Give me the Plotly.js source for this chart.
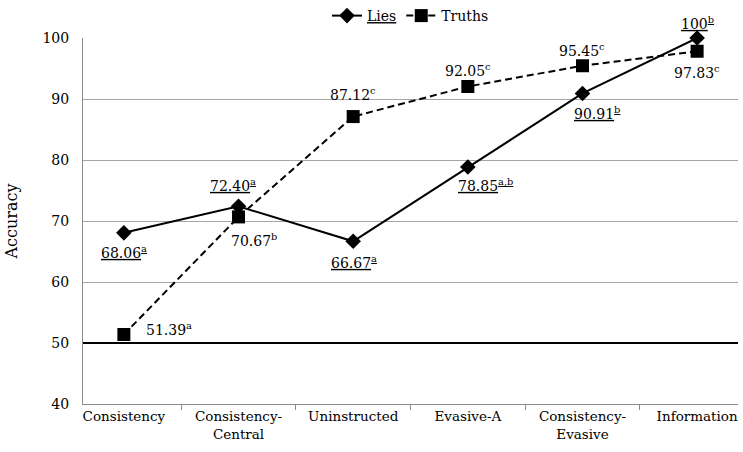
<!DOCTYPE html>
<html>
<head>
<meta charset="utf-8">
<script src="https://cdn.plot.ly/plotly-3.0.1.min.js"></script>
<style>
  html, body { margin: 0; padding: 0; background: #fff; }
  #chart { width: 743px; height: 452px; }
</style>
</head>
<body>
<div id="chart"></div>
<script>
// categories and values
const categories = ['Consistency', 'Consistency-<br>Central', 'Uninstructed',
                    'Evasive-A', 'Consistency-<br>Evasive', 'Information'];
const lies = [68.06, 72.40, 66.67, 78.85, 90.91, 100];
const truths = [51.39, 70.67, 87.12, 92.05, 95.45, 97.83];
const liesSig = ['a', 'a', 'a', 'a,b', 'b', 'b'];
const truthsSig = ['a', 'b', 'c', 'c', 'c', 'c'];
const chanceLevel = 50;

// label offsets in pixels [dx, dy] (dy positive = up)
const liesOffsets = [[0, -19], [-6, 21], [1, -21], [18, -18], [15, -20], [0, 15]];
const truthsOffsets = [[45, 6], [15, -23], [0, 23], [0, 17], [0, 16], [0, -21]];

const serif = 'DejaVu Serif, Georgia, serif';

function fmt(v) {
    return v === 100 ? '100' : v.toFixed(2);
}

let annotations = [];
for (let i = 0; i < categories.length; i++) {
    annotations.push({
        x: categories[i], y: lies[i], xref: 'x', yref: 'y',
        text: '<u>' + fmt(lies[i]) + '<sup>' + liesSig[i] + '</sup></u>',
        showarrow: false,
        xshift: liesOffsets[i][0], yshift: liesOffsets[i][1],
        font: {family: serif, size: 14, color: '#000'}
    });
    annotations.push({
        x: categories[i], y: truths[i], xref: 'x', yref: 'y',
        text: fmt(truths[i]) + '<sup>' + truthsSig[i] + '</sup>',
        showarrow: false,
        xshift: truthsOffsets[i][0], yshift: truthsOffsets[i][1],
        font: {family: serif, size: 14, color: '#000'}
    });
}

let traceLies = {
    x: categories, y: lies,
    name: '<u>Lies</u>',
    mode: 'lines+markers',
    line: {color: '#000', width: 2},
    marker: {symbol: 'diamond', size: 12, color: '#000'},
    cliponaxis: false
};

let traceTruths = {
    x: categories, y: truths,
    name: 'Truths',
    mode: 'lines+markers',
    line: {color: '#000', width: 2, dash: '7px,4px'},
    marker: {symbol: 'square', size: 13, color: '#000'},
    cliponaxis: false
};

let layout = {
    width: 743,
    height: 452,
    margin: {l: 83, r: 5, t: 38, b: 48},
    paper_bgcolor: '#fff',
    plot_bgcolor: '#fff',
    font: {family: serif, size: 14, color: '#000'},
    showlegend: true,
    legend: {
        orientation: 'h',
        x: 0.5, xanchor: 'center',
        y: 1.0, yanchor: 'top',
        yref: 'container',
        font: {family: serif, size: 14, color: '#000'},
        itemwidth: 30,
        tracegroupgap: 0
    },
    xaxis: {
        type: 'category',
        showgrid: false,
        showline: true,
        linecolor: '#8c8c8c',
        linewidth: 1,
        ticks: 'outside',
        tickson: 'boundaries',
        ticklen: 5,
        tickcolor: '#8c8c8c',
        tickfont: {family: serif, size: 13.5, color: '#000'},
        fixedrange: true
    },
    yaxis: {
        range: [40, 100],
        dtick: 10,
        showgrid: true,
        gridcolor: '#a6a6a6',
        gridwidth: 1,
        zeroline: false,
        showline: true,
        linecolor: '#8c8c8c',
        ticks: '',
        ticklabelstandoff: 10,
        tickfont: {family: serif, size: 14, color: '#000'},
        title: {text: 'Accuracy', font: {family: serif, size: 16, color: '#000'}, standoff: 20},
        fixedrange: true
    },
    shapes: [{
        type: 'line', xref: 'paper', yref: 'y',
        x0: 0, x1: 1, y0: chanceLevel, y1: chanceLevel,
        line: {color: '#000', width: 2}
    }],
    annotations: annotations
};

Plotly.newPlot('chart', [traceLies, traceTruths], layout, {displayModeBar: false, staticPlot: true});
</script>
</body>
</html>
